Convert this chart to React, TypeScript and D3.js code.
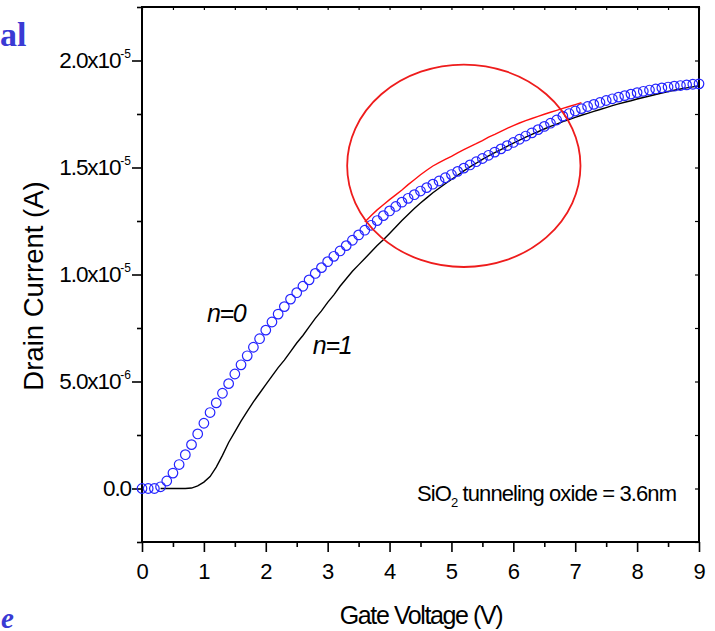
import React, { useEffect, useRef } from "react";
import * as d3 from "d3";

const W = 715;
const H = 631;

// n=0 (blue open circles), gate voltage in V, drain current in units of 1e-5 A
const n0Volt = [
  0, 0.1, 0.2, 0.3, 0.4, 0.5, 0.6, 0.7, 0.8, 0.9, 1, 1.1, 1.2, 1.3, 1.4, 1.5, 1.6, 1.7, 1.8, 1.9,
  2, 2.1, 2.2, 2.3, 2.4, 2.5, 2.6, 2.7, 2.8, 2.9, 3, 3.1, 3.2, 3.3, 3.4, 3.5, 3.6, 3.7, 3.8, 3.9,
  4, 4.1, 4.2, 4.3, 4.4, 4.5, 4.6, 4.7, 4.8, 4.9, 5, 5.1, 5.2, 5.3, 5.4, 5.5, 5.6, 5.7, 5.8, 5.9,
  6, 6.1, 6.2, 6.3, 6.4, 6.5, 6.6, 6.7, 6.8, 6.9, 7, 7.1, 7.2, 7.3, 7.4, 7.5, 7.6, 7.7, 7.8, 7.9,
  8, 8.1, 8.2, 8.3, 8.4, 8.5, 8.6, 8.7, 8.8, 8.9, 9,
];
const n0Current = [
  0, 0, 0, 0.008, 0.035, 0.072, 0.112, 0.158, 0.205, 0.255, 0.305, 0.355, 0.4, 0.445, 0.49, 0.535,
  0.578, 0.62, 0.66, 0.7, 0.74, 0.778, 0.815, 0.85, 0.885, 0.915, 0.945, 0.975, 1.005, 1.032, 1.06,
  1.085, 1.11, 1.135, 1.16, 1.185, 1.207, 1.23, 1.252, 1.275, 1.297, 1.318, 1.338, 1.356, 1.373,
  1.39, 1.406, 1.422, 1.437, 1.452, 1.467, 1.482, 1.497, 1.512, 1.527, 1.542, 1.557, 1.572, 1.587,
  1.602, 1.617, 1.632, 1.647, 1.662, 1.677, 1.692, 1.707, 1.722, 1.74, 1.752, 1.764, 1.775, 1.785,
  1.795, 1.804, 1.813, 1.821, 1.829, 1.836, 1.843, 1.85, 1.856, 1.862, 1.867, 1.872, 1.876, 1.88,
  1.883, 1.886, 1.889, 1.891,
];

// n=1 (black line)
const n1Volt = [
  0.3, 0.4, 0.5, 0.6, 0.7, 0.8, 0.9, 1, 1.1, 1.2, 1.3, 1.4, 1.5, 1.6, 1.7, 1.8, 1.9,
  2, 2.1, 2.2, 2.3, 2.4, 2.5, 2.6, 2.7, 2.8, 2.9, 3, 3.1, 3.2, 3.3, 3.4, 3.5, 3.6, 3.7, 3.8, 3.9,
  4, 4.1, 4.2, 4.3, 4.4, 4.5, 4.6, 4.7, 4.8, 4.9, 5, 5.1, 5.2, 5.3, 5.4, 5.5, 5.6, 5.7, 5.8, 5.9,
  6, 6.1, 6.2, 6.3, 6.4, 6.5, 6.6, 6.7, 6.8, 6.9, 7, 7.1, 7.2, 7.3, 7.4, 7.5, 7.6, 7.7, 7.8, 7.9,
  8, 8.1, 8.2, 8.3, 8.4, 8.5, 8.6, 8.7, 8.8, 8.9, 9,
];
const n1Current = [
  0, 0, 0, 0, 0, 0.002, 0.012, 0.03, 0.056, 0.1, 0.155, 0.215, 0.265, 0.315, 0.36, 0.405, 0.445,
  0.485, 0.525, 0.565, 0.6, 0.64, 0.68, 0.715, 0.755, 0.795, 0.83, 0.87, 0.905, 0.945, 0.98, 1.015,
  1.045, 1.075, 1.105, 1.135, 1.162, 1.192, 1.222, 1.252, 1.28, 1.308, 1.334, 1.358, 1.382, 1.403,
  1.424, 1.444, 1.464, 1.484, 1.503, 1.52, 1.538, 1.554, 1.569, 1.584, 1.599, 1.614, 1.628, 1.642,
  1.655, 1.667, 1.68, 1.692, 1.703, 1.714, 1.724, 1.734, 1.744, 1.753, 1.762, 1.771, 1.78, 1.789,
  1.797, 1.805, 1.812, 1.82, 1.827, 1.834, 1.841, 1.848, 1.855, 1.861, 1.867, 1.872, 1.877, 1.882,
];

// red trace inside the circled region
const redVolt = [
  3.6, 3.7, 3.8, 3.9, 4, 4.1, 4.2, 4.3, 4.4, 4.5, 4.6, 4.7, 4.8, 4.9, 5, 5.1, 5.2, 5.3, 5.4, 5.5,
  5.6, 5.7, 5.8, 5.9, 6, 6.1, 6.2, 6.3, 6.4, 6.5, 6.6, 6.7, 6.8, 6.9, 7, 7.1,
];
const redCurrent = [
  1.245, 1.275, 1.302, 1.326, 1.35, 1.372, 1.395, 1.42, 1.443, 1.466, 1.487, 1.507, 1.523, 1.538,
  1.552, 1.568, 1.583, 1.597, 1.611, 1.626, 1.642, 1.655, 1.669, 1.683, 1.696, 1.708, 1.719, 1.729,
  1.739, 1.749, 1.758, 1.767, 1.776, 1.785, 1.794, 1.803,
];

const xMajor = [0, 1, 2, 3, 4, 5, 6, 7, 8, 9];
const xMinor = [0.5, 1.5, 2.5, 3.5, 4.5, 5.5, 6.5, 7.5, 8.5];
const yMajor = [0, 0.5, 1, 1.5, 2];
const yMinor = [-0.25, 0.25, 0.75, 1.25, 1.75, 2.25];
const yTickBase = ["0.0", "5.0x10", "1.0x10", "1.5x10", "2.0x10"];
const yTickExp = ["", "-6", "-5", "-5", "-5"];

// annotation ellipse, in data units
const ringCenter = [5.2, 1.508];
const ringRadius = [1.885, 0.473];

const FONT = "'Liberation Sans', Arial, sans-serif";

export default function App() {
  const ref = useRef<SVGSVGElement>(null);

  useEffect(() => {
    const svg = d3.select(ref.current);
    svg.selectAll("*").remove();

    const x = d3.scaleLinear().domain([0, 9]).range([142, 699]);
    const y = d3.scaleLinear().domain([-0.25, 2.25]).range([542, 7]);

    svg.append("rect").attr("width", W).attr("height", H).attr("fill", "#fff");

    // slide fragments at the left edge
    svg
      .append("text")
      .attr("x", 0)
      .attr("y", 46)
      .attr("font-family", "'Liberation Serif', serif")
      .attr("font-weight", "bold")
      .attr("font-size", 34)
      .attr("fill", "#3a3ad4")
      .text("al");
    svg
      .append("text")
      .attr("x", 1)
      .attr("y", 628)
      .attr("font-family", "'Liberation Serif', serif")
      .attr("font-weight", "bold")
      .attr("font-style", "italic")
      .attr("font-size", 29)
      .attr("fill", "#3a3ad4")
      .text("e");

    // axes
    const styleAxis = (g: any, w: number) => {
      g.select(".domain").remove();
      g.selectAll("line").attr("stroke", "#000").attr("stroke-width", w);
    };

    const bottom = svg
      .append("g")
      .attr("transform", "translate(0,542)")
      .call(d3.axisBottom(x).tickValues(xMajor).tickSize(10).tickSizeOuter(0).tickPadding(11).tickFormat((d: any) => String(d)));
    styleAxis(bottom, 1.6);
    bottom
      .selectAll("text")
      .attr("font-family", FONT)
      .attr("font-size", 22)
      .attr("fill", "#000");

    const bottomMinor = svg
      .append("g")
      .attr("transform", "translate(0,542)")
      .call(d3.axisBottom(x).tickValues(xMinor).tickSize(5).tickSizeOuter(0).tickFormat(() => ""));
    styleAxis(bottomMinor, 1.6);

    const top = svg
      .append("g")
      .attr("transform", "translate(0,7)")
      .call(d3.axisTop(x).tickValues(xMajor.concat(xMinor)).tickSize(-3).tickSizeOuter(0).tickFormat(() => ""));
    styleAxis(top, 1.2);

    const left = svg
      .append("g")
      .attr("transform", "translate(142,0)")
      .call(d3.axisLeft(y).tickValues(yMajor).tickSize(10).tickSizeOuter(0).tickFormat(() => ""));
    styleAxis(left, 1.6);
    left.selectAll("text").remove();
    left
      .selectAll("g.tick")
      .append("text")
      .attr("x", -11)
      .attr("y", 7)
      .attr("text-anchor", "end")
      .attr("font-family", FONT)
      .attr("font-size", 22.5)
      .attr("letter-spacing", -1.1)
      .attr("fill", "#000")
      .each(function (_d: any, i: number) {
        const t = d3.select(this);
        t.append("tspan").text(yTickBase[i]);
        if (yTickExp[i]) {
          t.append("tspan").attr("dy", -10).attr("font-size", 12).attr("letter-spacing", 0).text(yTickExp[i]);
        }
      });

    const leftMinor = svg
      .append("g")
      .attr("transform", "translate(142,0)")
      .call(d3.axisLeft(y).tickValues(yMinor).tickSize(5).tickSizeOuter(0).tickFormat(() => ""));
    styleAxis(leftMinor, 1.6);

    const right = svg
      .append("g")
      .attr("transform", "translate(699,0)")
      .call(d3.axisRight(y).tickValues(yMajor.concat(yMinor)).tickSize(-4).tickSizeOuter(0).tickFormat(() => ""));
    styleAxis(right, 1.2);

    // frame
    svg
      .append("rect")
      .attr("x", x(0))
      .attr("y", y(2.25))
      .attr("width", x(9) - x(0))
      .attr("height", y(-0.25) - y(2.25))
      .attr("fill", "none")
      .attr("stroke", "#000")
      .attr("stroke-width", 2);

    // axis titles
    svg
      .append("text")
      .attr("x", 421)
      .attr("y", 624)
      .attr("text-anchor", "middle")
      .attr("font-family", FONT)
      .attr("font-size", 25)
      .attr("letter-spacing", -1.4)
      .attr("fill", "#000")
      .text("Gate Voltage (V)");
    svg
      .append("text")
      .attr("transform", "translate(43,286) rotate(-90)")
      .attr("text-anchor", "middle")
      .attr("font-family", FONT)
      .attr("font-size", 27.5)
      .attr("fill", "#000")
      .text("Drain Current (A)");

    // n=1 black curve
    const n1Pts: [number, number][] = n1Volt.map((v, i) => [x(v), y(n1Current[i])]);
    svg
      .append("path")
      .attr("d", d3.line()(n1Pts))
      .attr("fill", "none")
      .attr("stroke", "#000")
      .attr("stroke-width", 1.4);

    // n=0 open circles
    svg
      .append("g")
      .selectAll("circle")
      .data(n0Volt)
      .enter()
      .append("circle")
      .attr("cx", (d) => x(d))
      .attr("cy", (_d, i) => y(n0Current[i]))
      .attr("r", 4.8)
      .attr("fill", "none")
      .attr("stroke", "#2424ff")
      .attr("stroke-width", 1.2);

    // red trace
    const redPts: [number, number][] = redVolt.map((v, i) => [x(v), y(redCurrent[i])]);
    svg
      .append("path")
      .attr("d", d3.line()(redPts))
      .attr("fill", "none")
      .attr("stroke", "#ff1010")
      .attr("stroke-width", 1.4);

    // annotation ellipse
    svg
      .append("ellipse")
      .attr("cx", x(ringCenter[0]))
      .attr("cy", y(ringCenter[1]))
      .attr("rx", x(ringCenter[0] + ringRadius[0]) - x(ringCenter[0]))
      .attr("ry", y(ringCenter[1] - ringRadius[1]) - y(ringCenter[1]))
      .attr("fill", "none")
      .attr("stroke", "#ee1c1c")
      .attr("stroke-width", 1.8);

    // curve labels
    const labels = [
      { text: "n=0", v: 1.05, c: 0.78 },
      { text: "n=1", v: 2.76, c: 0.63 },
    ];
    svg
      .append("g")
      .selectAll("text")
      .data(labels)
      .enter()
      .append("text")
      .attr("x", (d) => x(d.v))
      .attr("y", (d) => y(d.c))
      .attr("font-family", FONT)
      .attr("font-style", "italic")
      .attr("font-size", 25)
      .attr("letter-spacing", -1.3)
      .attr("fill", "#000")
      .text((d) => d.text);

    // oxide note
    const note = svg
      .append("text")
      .attr("x", 417)
      .attr("y", 501)
      .attr("font-family", FONT)
      .attr("font-size", 22)
      .attr("letter-spacing", -0.9)
      .attr("fill", "#000");
    note.append("tspan").text("SiO");
    note.append("tspan").attr("dy", 6).attr("font-size", 13).text("2");
    note.append("tspan").attr("dy", -6).text(" tunneling oxide = 3.6nm");
  }, []);

  return (
    <svg
      ref={ref}
      width={W}
      height={H}
      style={{ position: "fixed", top: 0, left: 0, display: "block" }}
    />
  );
}
